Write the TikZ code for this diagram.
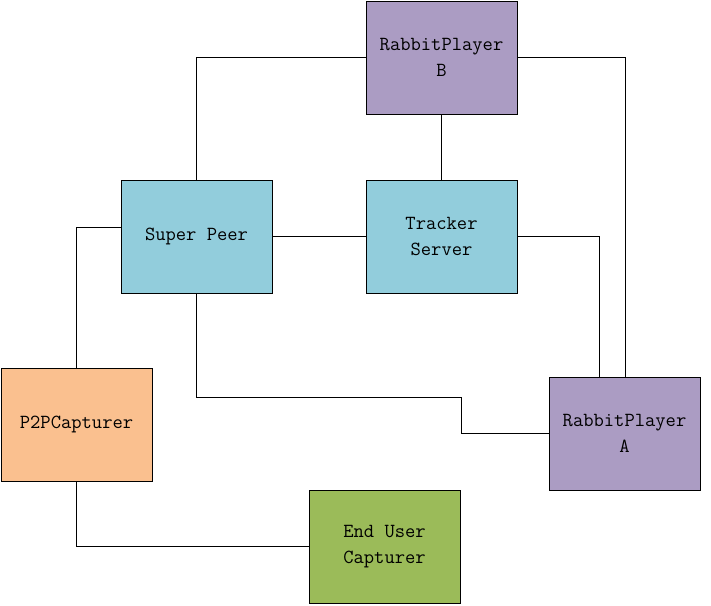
\documentclass[tikz,border=0pt]{standalone}
\usepackage{fontspec}
\usetikzlibrary{calc}
\definecolor{cpurple}{HTML}{AB9CC3}
\definecolor{cblue}{HTML}{92CDDC}
\definecolor{corange}{HTML}{FAC08F}
\definecolor{cgreen}{HTML}{9BBB59}
\begin{document}
\begin{tikzpicture}[x=1pt,y=1pt,
  box/.style={draw=black,line width=1pt,minimum width=151pt,minimum height=113pt,
    inner sep=0pt,align=center,font=\ttfamily\fontsize{20}{26}\selectfont},
  link/.style={draw=black,line width=1pt}]
\useasboundingbox (0,0) rectangle (711,-605);
\node[box,fill=cpurple] (B) at (441.5,-57.5) {RabbitPlayer\\B};
\node[box,fill=cblue] (sp) at (196.5,-236.5) {Super Peer};
\node[box,fill=cblue] (ts) at (441.5,-236.5) {Tracker\\Server};
\node[box,fill=corange] (p2p) at (76.5,-424.5) {P2PCapturer};
\node[box,fill=cpurple] (A) at (624.5,-433.5) {RabbitPlayer\\A};
\node[box,fill=cgreen] (eu) at (384.5,-546.5) {End User\\Capturer};
\coordinate (k) at (461,-397);
\draw[link] (sp.north) |- (B.west);
\draw[link] (B.east) -| ([xshift=0.5pt]A.north);
\draw[link] (B.south) -- (ts.north);
\draw[link] (sp.east) -- (ts.west);
\draw[link] (ts.east) -| ([xshift=-25.5pt]A.north);
\draw[link] ([yshift=9.5pt]sp.west) -| (p2p.north);
\draw[link] (sp.south) |- (k) |- (A.west);
\draw[link] (p2p.south) |- (eu.west);
\end{tikzpicture}
\end{document}
